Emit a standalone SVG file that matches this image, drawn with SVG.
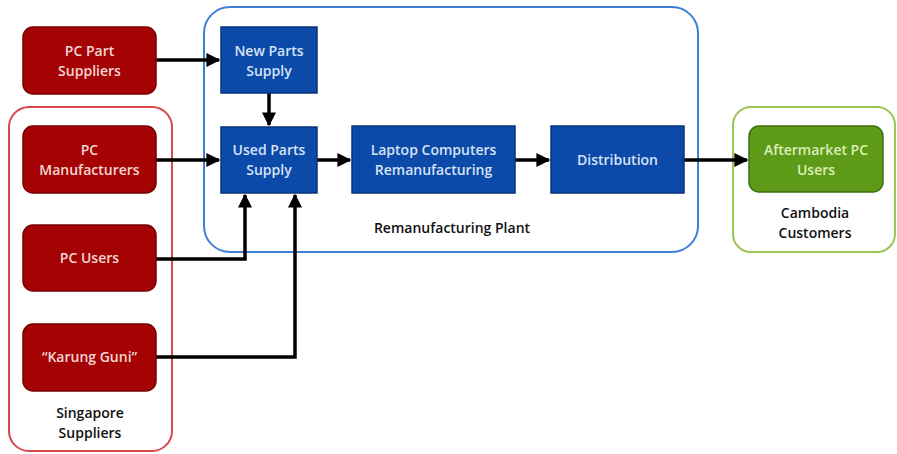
<svg xmlns="http://www.w3.org/2000/svg" width="897" height="454" viewBox="0 0 897 454">
<defs>
<marker id="ah" viewBox="0 0 10 10" refX="9" refY="5" markerWidth="4" markerHeight="4" orient="auto" markerUnits="strokeWidth">
<path d="M0,0 L10,5 L0,10 z" fill="#000"/>
</marker>
<style>
.red{fill:#A50303;stroke:#7A0000;stroke-width:1.5}
.blue{fill:#0B4AA8;stroke:#08357A;stroke-width:1.5}
.green{fill:#5C9A18;stroke:#3F6E0E;stroke-width:1.5}
.t{font-family:"Open Sans","Liberation Sans",sans-serif;font-size:14px;text-anchor:middle;font-weight:600}
.tr{fill:#F3D6D6}
.tb{fill:#D6E2F5}
.tg{fill:#DCEFB8}
.tk{fill:#111}
.c{fill:none;stroke:#000;stroke-width:3.5;marker-end:url(#ah)}
</style>
</defs>
<rect width="897" height="454" fill="#fff"/>
<g id="singapore">
<rect x="9" y="107" width="163" height="344" rx="20" fill="none" stroke="#D9474A" stroke-width="2"/>
<text class="t tk" x="90" y="418">Singapore</text>
<text class="t tk" x="90" y="438">Suppliers</text>
</g>
<g id="plant">
<rect x="204" y="7" width="494" height="245" rx="26" fill="none" stroke="#3E7FD6" stroke-width="2"/>
<text class="t tk" x="452" y="233">Remanufacturing  Plant</text>
</g>
<g id="cambodia">
<rect x="733" y="107" width="162" height="145" rx="18" fill="none" stroke="#9BC653" stroke-width="2"/>
<text class="t tk" x="815" y="218">Cambodia</text>
<text class="t tk" x="815" y="238">Customers</text>
</g>
<g id="connectors">
<path class="c" d="M156,60 L219,60"/>
<path class="c" d="M156,160 L219,160"/>
<path class="c" d="M269,93 L269,125"/>
<path class="c" d="M156,259 L245,259 L245,195"/>
<path class="c" d="M156,357 L295,357 L295,195"/>
<path class="c" d="M317,160 L350,160"/>
<path class="c" d="M515,160 L549,160"/>
<path class="c" d="M684,160 L747,160"/>
</g>
<g id="pc-part-suppliers">
<rect class="red" x="23" y="27" width="133" height="67" rx="10"/>
<text class="t tr" x="89.5" y="56">PC Part</text>
<text class="t tr" x="89.5" y="76">Suppliers</text>
</g>
<g id="pc-manufacturers">
<rect class="red" x="23" y="126" width="133" height="67" rx="10"/>
<text class="t tr" x="89.5" y="155">PC</text>
<text class="t tr" x="89.5" y="175">Manufacturers</text>
</g>
<g id="pc-users">
<rect class="red" x="23" y="225" width="133" height="66" rx="10"/>
<text class="t tr" x="89.5" y="263">PC Users</text>
</g>
<g id="karung-guni">
<rect class="red" x="23" y="324" width="133" height="67" rx="10"/>
<text class="t tr" x="89.5" y="362">“Karung Guni”</text>
</g>
<g id="new-parts-supply">
<rect class="blue" x="221" y="27" width="96" height="66"/>
<text class="t tb" x="269" y="56">New Parts</text>
<text class="t tb" x="269" y="76">Supply</text>
</g>
<g id="used-parts-supply">
<rect class="blue" x="221" y="127" width="96" height="66"/>
<text class="t tb" x="269" y="155">Used Parts</text>
<text class="t tb" x="269" y="175">Supply</text>
</g>
<g id="laptop-remanufacturing">
<rect class="blue" x="352" y="126" width="163" height="67"/>
<text class="t tb" x="433.5" y="155">Laptop Computers</text>
<text class="t tb" x="433.5" y="175">Remanufacturing</text>
</g>
<g id="distribution">
<rect class="blue" x="551" y="126" width="133" height="67"/>
<text class="t tb" x="617.5" y="165">Distribution</text>
</g>
<g id="aftermarket-pc-users">
<rect class="green" x="749" y="126" width="134" height="66" rx="10"/>
<text class="t tg" x="816" y="155">Aftermarket PC</text>
<text class="t tg" x="816" y="175">Users</text>
</g>
</svg>
